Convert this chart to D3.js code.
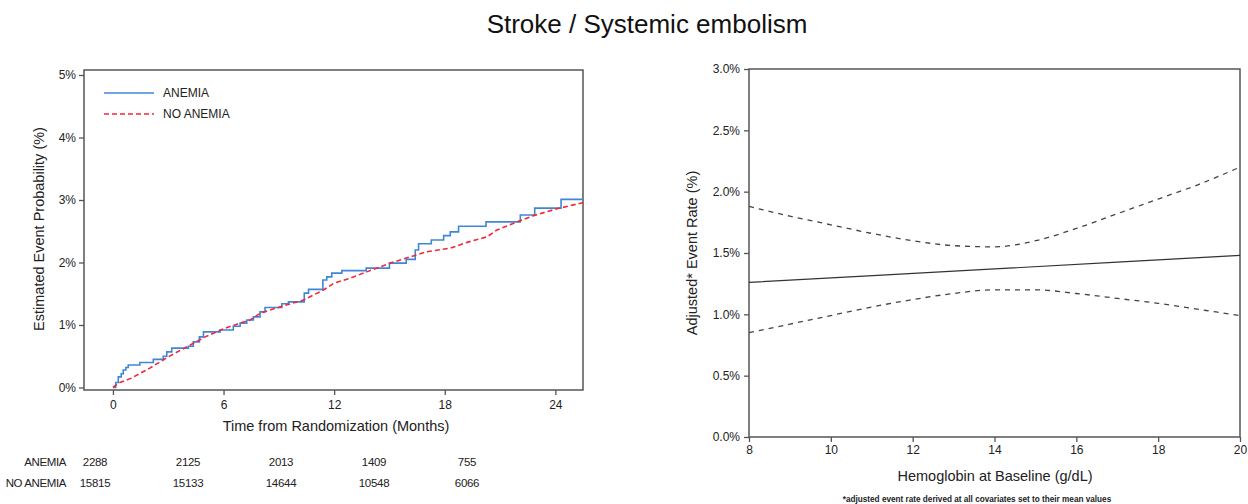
<!DOCTYPE html>
<html><head><meta charset="utf-8">
<script src="https://cdn.jsdelivr.net/npm/d3@7"></script>
<style>
body{margin:0;background:#fff;}
svg{display:block;font-family:"Liberation Sans",Arial,sans-serif;}
</style></head>
<body>
<svg id="c" width="1248" height="504"></svg>
<script>
// ---------- Data ----------
const title = "Stroke / Systemic embolism";
// Left: Kaplan-Meier cumulative event curves (months, %)
const anemiaT = [0,0.15,0.29,0.45,0.56,0.7,0.83,1.46,2.19,2.73,2.92,3.19,4.09,4.36,4.69,4.91,5.81,6.53,6.9,7.26,7.62,7.98,8.25,9.16,9.52,10.38,10.61,11.39,11.6,11.87,12.42,13.74,15.0,15.91,16.4,16.58,17.27,17.94,18.3,18.75,20.24,22.1,22.88,24.31,25.5];
const anemiaV = [0,0.08,0.17,0.22,0.28,0.32,0.36,0.40,0.45,0.50,0.57,0.63,0.66,0.73,0.81,0.89,0.92,0.98,1.03,1.08,1.13,1.21,1.28,1.34,1.37,1.51,1.57,1.72,1.77,1.83,1.87,1.91,1.99,2.05,2.20,2.30,2.36,2.43,2.49,2.58,2.65,2.76,2.87,3.01,3.01];
const noAnemiaT = [0,0.3,1,2,3,4,5,6,7,7.44,8,9.07,10.34,11.42,12,12.87,13.77,15.04,16.13,17,18.3,19.3,20.29,20.83,21.92,22.82,24.09,25.54];
const noAnemiaV = [0,0.07,0.15,0.31,0.49,0.65,0.81,0.94,1.04,1.08,1.19,1.29,1.40,1.56,1.67,1.75,1.85,1.99,2.09,2.17,2.23,2.33,2.41,2.52,2.65,2.75,2.86,2.96];
const kmXTicks = [0,6,12,18,24];
const kmYTicks = [0,1,2,3,4,5];
const riskTimes = [0,6,12,18,24];
const riskAnemia = [2288,2125,2013,1409,755];
const riskNoAnemia = [15815,15133,14644,10548,6066];
const seriesNames = ["ANEMIA","NO ANEMIA"];
// Right: adjusted event rate vs hemoglobin
const hgbEst = [8,14,20];
const rateEst = [1.26,1.37,1.48];
const hgbCI = [8,9,10,11,12,13,14,15,16,17,18,19,20];
const upperCI = [1.88,1.80,1.73,1.66,1.60,1.56,1.55,1.60,1.70,1.82,1.94,2.06,2.20];
const lowerCI = [0.85,0.92,0.99,1.06,1.12,1.17,1.20,1.20,1.17,1.13,1.09,1.04,0.99];
const hgbTicks = [8,10,12,14,16,18,20];
const rateTicks = [0,0.5,1.0,1.5,2.0,2.5,3.0];

// ---------- Drawing ----------
const svg = d3.select("#c");
const axisCol = "#555";

svg.append("text").attr("x",647).attr("y",33).attr("text-anchor","middle")
  .style("font-size","26px").attr("fill","#111").text(title);

// ===== Left panel =====
const xL = d3.scaleLinear().domain([-1.57,25.5]).range([84,583]);
const yL = d3.scaleLinear().domain([-0.04,5.08]).range([390,70]);
const gL = svg.append("g");
gL.append("rect").attr("x",84).attr("y",70).attr("width",499).attr("height",320)
  .attr("fill","none").attr("stroke",axisCol).attr("stroke-width",1.5);

const axL = gL.append("g").attr("transform","translate(84,0)")
  .call(d3.axisLeft(yL).tickValues(kmYTicks).tickFormat(d=>d+"%").tickSize(5).tickPadding(3));
const axB = gL.append("g").attr("transform","translate(0,390)")
  .call(d3.axisBottom(xL).tickValues(kmXTicks).tickSize(5).tickPadding(5));
[axL,axB].forEach(a=>{
  a.select(".domain").remove();
  a.selectAll("line").attr("stroke",axisCol).attr("stroke-width",1.3);
  a.selectAll("text").style("font-size","12px").attr("fill","#222").attr("font-family","Liberation Sans, Arial");
});

gL.append("text").attr("transform","translate(44,229) rotate(-90)").attr("text-anchor","middle")
  .style("font-size","14.5px").attr("fill","#222").text("Estimated Event Probability (%)");
gL.append("text").attr("x",336).attr("y",431).attr("text-anchor","middle")
  .style("font-size","14.5px").attr("fill","#222").text("Time from Randomization (Months)");

const lineStep = d3.line().x(d=>xL(d[0])).y(d=>yL(d[1])).curve(d3.curveStepAfter);
const lineLin = d3.line().x(d=>xL(d[0])).y(d=>yL(d[1]));
gL.append("path").datum(d3.zip(anemiaT,anemiaV)).attr("d",lineStep)
  .attr("fill","none").attr("stroke","#3f86d6").attr("stroke-width",1.6);
gL.append("path").datum(d3.zip(noAnemiaT,noAnemiaV)).attr("d",lineLin)
  .attr("fill","none").attr("stroke","#f3263e").attr("stroke-width",1.6).attr("stroke-dasharray","5,3");

// legend
const leg = gL.append("g");
leg.append("line").attr("x1",104).attr("x2",154).attr("y1",93).attr("y2",93)
  .attr("stroke","#3f86d6").attr("stroke-width",1.6);
leg.append("text").attr("x",163).attr("y",97).style("font-size","12px").attr("fill","#222").text(seriesNames[0]);
leg.append("line").attr("x1",104).attr("x2",154).attr("y1",114).attr("y2",114)
  .attr("stroke","#f3263e").attr("stroke-width",1.6).attr("stroke-dasharray","5,3");
leg.append("text").attr("x",163).attr("y",118).style("font-size","12px").attr("fill","#222").text(seriesNames[1]);

// number at risk
const xRisk = d3.scalePoint().domain(riskTimes).range([95,467]);
[[riskAnemia,466,seriesNames[0]],[riskNoAnemia,487,seriesNames[1]]].forEach(([vals,y,name])=>{
  gL.append("text").attr("x",66).attr("y",y).attr("text-anchor","end")
    .style("font-size","11.5px").attr("fill","#222").style("letter-spacing","-0.4px").text(name);
  gL.selectAll(null).data(vals).join("text")
    .attr("x",(d,i)=>xRisk(riskTimes[i])).attr("y",y).attr("text-anchor","middle")
    .style("font-size","11.5px").attr("fill","#222").style("letter-spacing","-0.3px").text(d=>d);
});

// ===== Right panel =====
const xR = d3.scaleLinear().domain([8,20]).range([749,1240]);
const yR = d3.scaleLinear().domain([0,3]).range([437,69]);
const gR = svg.append("g");
gR.append("rect").attr("x",749).attr("y",69).attr("width",491).attr("height",368)
  .attr("fill","none").attr("stroke",axisCol).attr("stroke-width",1.5);
const axRL = gR.append("g").attr("transform","translate(749,0)")
  .call(d3.axisLeft(yR).tickValues(rateTicks).tickFormat(d=>d3.format(".1f")(d)+"%").tickSize(5).tickPadding(4));
const axRB = gR.append("g").attr("transform","translate(0,437)")
  .call(d3.axisBottom(xR).tickValues(hgbTicks).tickSize(5).tickPadding(3));
[axRL,axRB].forEach(a=>{
  a.select(".domain").remove();
  a.selectAll("line").attr("stroke",axisCol).attr("stroke-width",1.3);
  a.selectAll("text").style("font-size","12px").attr("fill","#222").attr("font-family","Liberation Sans, Arial");
});
gR.append("text").attr("transform","translate(697,253) rotate(-90)").attr("text-anchor","middle")
  .style("font-size","14.5px").attr("fill","#222").text("Adjusted* Event Rate (%)");
gR.append("text").attr("x",995).attr("y",481).attr("text-anchor","middle")
  .style("font-size","14.5px").attr("fill","#222").text("Hemoglobin at Baseline (g/dL)");
gR.append("text").attr("x",977).attr("y",502).attr("text-anchor","middle")
  .style("font-size","8.2px").style("font-weight","bold").attr("fill","#222")
  .text("*adjusted event rate derived at all covariates set to their mean values");

const lineR = d3.line().x(d=>xR(d[0])).y(d=>yR(d[1])).curve(d3.curveMonotoneX);
gR.append("path").datum(d3.zip(hgbEst,rateEst)).attr("d",lineR)
  .attr("fill","none").attr("stroke","#333").attr("stroke-width",1.2);
[upperCI,lowerCI].forEach(v=>{
  gR.append("path").datum(d3.zip(hgbCI,v)).attr("d",lineR)
    .attr("fill","none").attr("stroke","#444").attr("stroke-width",1.3).attr("stroke-dasharray","5,5");
});
</script>
</body></html>
